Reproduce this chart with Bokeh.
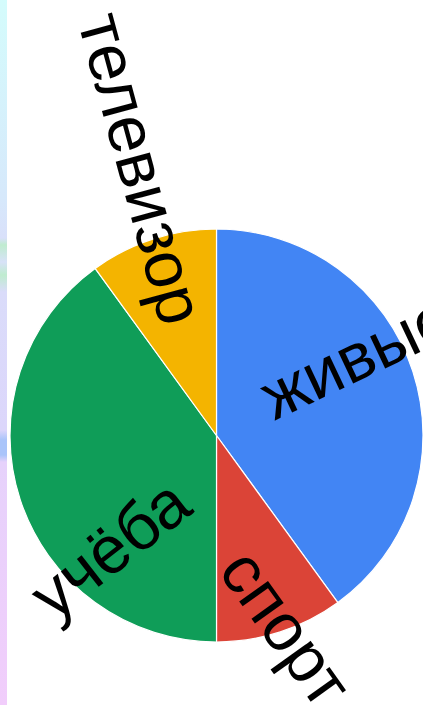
from bokeh.plotting import figure
from bokeh.models import Range1d, ColumnDataSource
from bokeh.core.properties import value
from bokeh.embed import file_html
from bokeh.resources import INLINE
import math

# ---- data ----
categories = ["живые", "спорт", "учёба", "телевизор"]
values = [40, 10, 40, 10]
colors = ["#4285F4", "#DB4437", "#0F9D58", "#F4B400"]

# ---- layout (pixels) ----
STRIP = 7
W, H = 423 - STRIP, 705
CX, CY = 216 - STRIP, 705 - 435   # pie centre (data units == pixels, y up)
R = 206.5
FONT = "Liberation Sans"
FONT_SIZE = "67px"

# label anchors in page pixels (x, y from top-left), rotation in degrees
label_px = [264, 286, 109, 141.5]
label_py = [399, 627, 548, 168]
label_rot = [25.3, -54.4, 38.0, -74.8]
label_align = ["left", "center", "center", "center"]

total = float(sum(values))
starts, ends = [], []
acc = 0.0
for v in values:
    a0 = math.pi / 2 - 2 * math.pi * acc / total
    acc += v
    a1 = math.pi / 2 - 2 * math.pi * acc / total
    starts.append(a0)
    ends.append(a1)

src = ColumnDataSource(dict(cat=categories, val=values, color=colors,
                            start=starts, end=ends,
                            x=[CX] * len(values), y=[CY] * len(values)))

p = figure(width=W, height=H, output_backend="svg", toolbar_location=None,
           x_range=Range1d(0, W), y_range=Range1d(0, H), min_border=0)
p.axis.visible = False
p.grid.visible = False
p.outline_line_color = None
p.background_fill_color = "white"
p.border_fill_color = "white"

p.wedge(x="x", y="y", radius=R, radius_units="screen",
        start_angle="start", end_angle="end", direction="clock",
        fill_color="color", line_color="white", line_width=1.2, source=src)

lsrc = ColumnDataSource(dict(x=[px - STRIP for px in label_px],
                             y=[H - py for py in label_py],
                             text=categories,
                             angle=[math.radians(a) for a in label_rot],
                             align=label_align))
p.text(x="x", y="y", text="text", angle="angle", source=lsrc,
       text_font=value(FONT), text_font_size=FONT_SIZE, text_color="black",
       text_align="align", text_baseline="middle")

html = file_html(p, INLINE)
style = ("<style>html{background:linear-gradient(to bottom,"
         "#d4fcfc 0px,#d6e8fb 200px,#d9e0fa 238px,#bfeccf 245px,#d8e2f8 262px,"
         "#bfeccf 275px,#dadcfa 292px,#dcd6fb 430px,#a9c4fa 440px,#a9c4fa 455px,"
         "#e6d2fb 462px,#f1cdfb 705px) 0 0/7px 705px no-repeat,#ffffff;}"
         "body{padding-left:7px !important;}</style>")
html = html.replace("</head>", style + "</head>", 1)
open("out.html", "w").write(html)
